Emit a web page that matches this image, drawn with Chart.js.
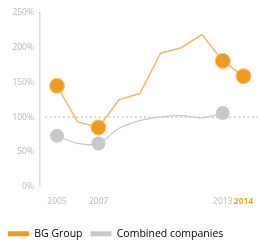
<!DOCTYPE html>
<html><head><meta charset="utf-8">
<script src="https://cdn.jsdelivr.net/npm/chart.js@4/dist/chart.umd.min.js"></script>
<style>html,body{margin:0;padding:0;background:#fff;}#wrap{width:258px;height:244px;}</style>
</head><body><div id="wrap"><canvas id="c" width="258" height="244"></canvas></div>
<script>
const years = [2005, 2006, 2007, 2008, 2009, 2010, 2011, 2012, 2013, 2014];
const bgGroup = [145, 93, 85, 125, 134, 192, 200, 219, 181, 159];
const combined = [73, 62, 62, 84, 95, 100, 102, 99, 106, null];
const bgMarkerYears = [2005, 2007, 2013, 2014];
const combinedMarkerYears = [2005, 2007, 2013];
const xTickLabels = [2005, 2007, 2013, 2014];
const yTicks = [0, 50, 100, 150, 200, 250];
const referenceLevel = 100;

const ORANGE = '#f39a1e';
const ORANGE_LINE = '#f2b86a';
const GREY = '#c9c9c9';
const TXT = '#b8b8b8';

const pts = (arr) => years.map((y, i) => ({x: y, y: arr[i]})).filter(p => p.y !== null);
const radii = (markers, r) => years.map(y => markers.includes(y) ? r : 0);

new Chart(document.getElementById('c'), {
  type: 'line',
  data: {
    datasets: [
      {
        label: 'ref', data: [{x: 2004.42, y: referenceLevel}, {x: 2014.7, y: referenceLevel}],
        borderColor: '#c4c4c4', borderWidth: 1.2, borderDash: [2, 2.5], pointRadius: 0, order: 3
      },
      {
        label: 'Combined companies', data: pts(combined),
        borderColor: GREY, backgroundColor: GREY, borderWidth: 1.3, tension: 0.35,
        pointRadius: radii(combinedMarkerYears, 7), pointBackgroundColor: GREY,
        pointBorderWidth: 0, order: 2
      },
      {
        label: 'BG Group', data: pts(bgGroup),
        borderColor: ORANGE_LINE, backgroundColor: ORANGE, borderWidth: 1.5, tension: 0,
        pointRadius: radii(bgMarkerYears, 7.5), pointBackgroundColor: ORANGE,
        pointBorderColor: '#f7c27a', pointBorderWidth: 1, order: 1
      }
    ]
  },
  options: {
    responsive: false, animation: false,
    layout: {padding: {top: 13, right: 0, left: 0, bottom: -5}},
    clip: false,
    plugins: {
      tooltip: {enabled: false},
      legend: {
        position: 'bottom', align: 'start', reverse: true,
        labels: {
          filter: (item) => item.text !== 'ref',
          boxWidth: 21, boxHeight: 5, padding: 8, color: TXT,
          font: {family: 'Open Sans', size: 10.5},
          generateLabels: (chart) => chart.data.datasets.map((d, i) => ({
            text: d.label, fillStyle: d.backgroundColor, strokeStyle: d.backgroundColor,
            lineWidth: 0, datasetIndex: i, hidden: false
          }))
        }
      }
    },
    scales: {
      x: {
        type: 'linear', min: 2004.18, max: 2014.29,
        afterBuildTicks: (s) => { s.ticks = xTickLabels.map(v => ({value: v})); },
        afterFit: (s) => { s.height = 34; s.paddingRight = 0; s.paddingLeft = 0; },
        grid: {display: false, drawTicks: false}, border: {display: false},
        ticks: {
          autoSkip: false, maxRotation: 0, padding: 10,
          color: (ctx) => ctx.tick && ctx.tick.value === 2014 ? '#e8a532' : TXT,
          font: (ctx) => ({family: 'Open Sans', size: 8.5, weight: ctx.tick && ctx.tick.value === 2014 ? 'bold' : 'normal'}),
          callback: (v) => String(v)
        }
      },
      y: {
        min: 0, max: 250,
        afterBuildTicks: (s) => { s.ticks = yTicks.map(v => ({value: v})); },
        afterFit: (s) => { s.width = 40; },
        grid: {display: false, drawTicks: false},
        border: {display: true, color: '#dedede', width: 1.5},
        ticks: {
          padding: 6, color: TXT, font: {family: 'Open Sans', size: 8.5},
          callback: (v) => v + '%'
        }
      }
    }
  }
});
</script></body></html>
